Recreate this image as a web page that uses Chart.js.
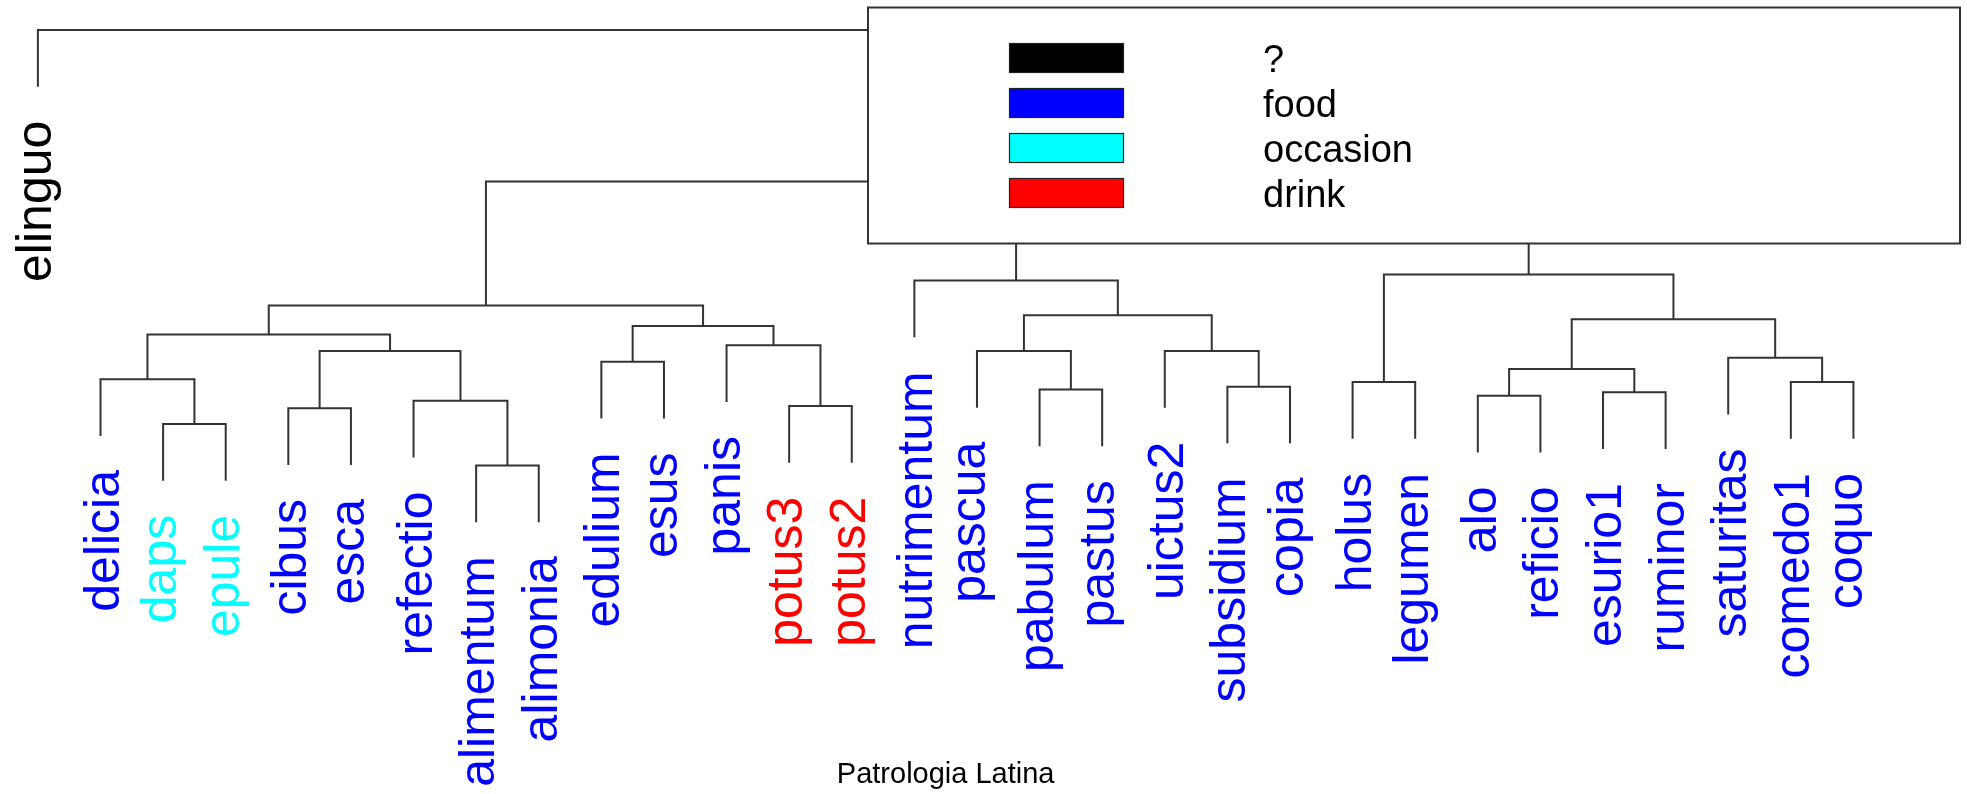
<!DOCTYPE html>
<html>
<head>
<meta charset="utf-8">
<script src="https://cdn.jsdelivr.net/npm/chart.js@4.4.1/dist/chart.umd.min.js"></script>
<style>
  html, body { margin: 0; padding: 0; background: #fff; }
  #wrap { width: 1967px; height: 794px; }
</style>
</head>
<body>
<div id="wrap"><canvas id="dendro" width="1967" height="794"></canvas></div>
<script>
// leaves in plotted order
const leaves = ['elinguo', 'delicia', 'daps', 'epule', 'cibus', 'esca', 'refectio', 'alimentum',
  'alimonia', 'edulium', 'esus', 'panis', 'potus3', 'potus2', 'nutrimentum', 'pascua', 'pabulum',
  'pastus', 'uictus2', 'subsidium', 'copia', 'holus', 'legumen', 'alo', 'reficio', 'esurio1',
  'ruminor', 'saturitas', 'comedo1', 'coquo'];
const leafGroup = ['?', 'food', 'occasion', 'occasion', 'food', 'food', 'food', 'food',
  'food', 'food', 'food', 'food', 'drink', 'drink', 'food', 'food', 'food',
  'food', 'food', 'food', 'food', 'food', 'food', 'food', 'food', 'food',
  'food', 'food', 'food', 'food'];
const groups = ['?', 'food', 'occasion', 'drink'];
const groupColors = ['#000000', '#0000ff', '#00ffff', '#ff0000'];

// like hclust$merge: negative = leaf (1-based), positive = earlier merge row
const merges = [
  [-8, -9], [-3, -4], [-5, -6], [-13, -14], [-7, 1], [-24, -25], [-26, -27], [-17, -18],
  [-20, -21], [-29, -30], [-22, -23], [-2, 2], [6, 7], [-10, -11], [-28, 10], [3, 5],
  [-16, 8], [-19, 9], [-12, 4], [12, 16], [14, 19], [13, 15], [17, 18], [20, 21],
  [-15, 23], [11, 22], [25, 26], [24, 27], [-1, 28]
];
const heights = [2.32, 3.05, 3.33, 3.37, 3.46, 3.55, 3.61, 3.66, 3.71, 3.79, 3.79, 3.84,
  4.02, 4.15, 4.22, 4.34, 4.34, 4.34, 4.44, 4.63, 4.78, 4.90, 4.97, 5.14, 5.58, 5.69,
  6.65, 7.33, 10.0];
const hang = 0.1;
const xTitle = 'Patrologia Latina';

const FONT = '"Liberation Sans", Arial, sans-serif';
const maxH = Math.max(...heights);
const leafX = leaves.map((_, i) => i + 1);
const leafBottom = new Array(leaves.length);
const nodeX = [];

const datasets = merges.map((pair, k) => {
  const h = heights[k];
  const ends = pair.map(ref => {
    if (ref < 0) {
      leafBottom[-ref - 1] = h - hang * maxH;
      return { x: leafX[-ref - 1], y: h - hang * maxH };
    }
    return { x: nodeX[ref - 1], y: heights[ref - 1] };
  });
  nodeX[k] = (ends[0].x + ends[1].x) / 2;
  return {
    data: [ends[0], { x: ends[0].x, y: h }, { x: ends[1].x, y: h }, ends[1]],
    showLine: true,
    borderColor: '#333333',
    borderWidth: 2,
    pointRadius: 0,
    fill: false,
    tension: 0
  };
});

const leafLabels = {
  id: 'leafLabels',
  afterDatasetsDraw(chart) {
    const { ctx, scales: { x, y } } = chart;
    ctx.save();
    ctx.font = '50px ' + FONT;
    leaves.forEach((name, i) => {
      const px = x.getPixelForValue(leafX[i]);
      const py = y.getPixelForValue(leafBottom[i]) + 34;
      const m = ctx.measureText(name);
      const off = (m.actualBoundingBoxAscent - m.actualBoundingBoxDescent) / 2;
      ctx.save();
      ctx.translate(px, py);
      ctx.rotate(-Math.PI / 2);
      ctx.textAlign = 'right';
      ctx.textBaseline = 'alphabetic';
      ctx.fillStyle = groupColors[groups.indexOf(leafGroup[i])];
      ctx.fillText(name, 0, off);
      ctx.restore();
    });
    // axis title
    ctx.font = '29px ' + FONT;
    ctx.fillStyle = '#000';
    ctx.textAlign = 'center';
    ctx.textBaseline = 'alphabetic';
    ctx.fillText(xTitle, x.getPixelForValue((1 + leaves.length) / 2), 783);
    ctx.restore();
  }
};

// legend box drawn on top of the tree, like R's legend(bg = "white")
const boxLegend = {
  id: 'boxLegend',
  afterDraw(chart) {
    const { ctx } = chart;
    const bx = 868, by = 7.5, bw = 1092, bh = 236;
    ctx.save();
    ctx.fillStyle = '#fff';
    ctx.fillRect(bx, by, bw, bh);
    ctx.strokeStyle = '#333';
    ctx.lineWidth = 2;
    ctx.strokeRect(bx, by, bw, bh);
    ctx.font = '38px ' + FONT;
    ctx.textAlign = 'left';
    ctx.textBaseline = 'alphabetic';
    groups.forEach((g, i) => {
      const top = 43.5 + 45 * i;
      ctx.fillStyle = groupColors[i];
      ctx.fillRect(1009.5, top, 114, 29);
      ctx.strokeStyle = '#222';
      ctx.lineWidth = 1.2;
      ctx.strokeRect(1009.5, top, 114, 29);
      ctx.fillStyle = '#000';
      ctx.fillText(g, 1263, top + 28.5);
    });
    ctx.restore();
  }
};

new Chart(document.getElementById('dendro').getContext('2d'), {
  type: 'scatter',
  data: { datasets },
  options: {
    responsive: false,
    animation: false,
    layout: { padding: 0 },
    plugins: { legend: { display: false }, tooltip: { enabled: false } },
    scales: {
      x: { type: 'linear', display: false, min: 0.3946, max: 31.814 },
      y: { type: 'linear', display: false, min: -3.474, max: 10.529 }
    }
  },
  plugins: [leafLabels, boxLegend]
});
</script>
</body>
</html>
